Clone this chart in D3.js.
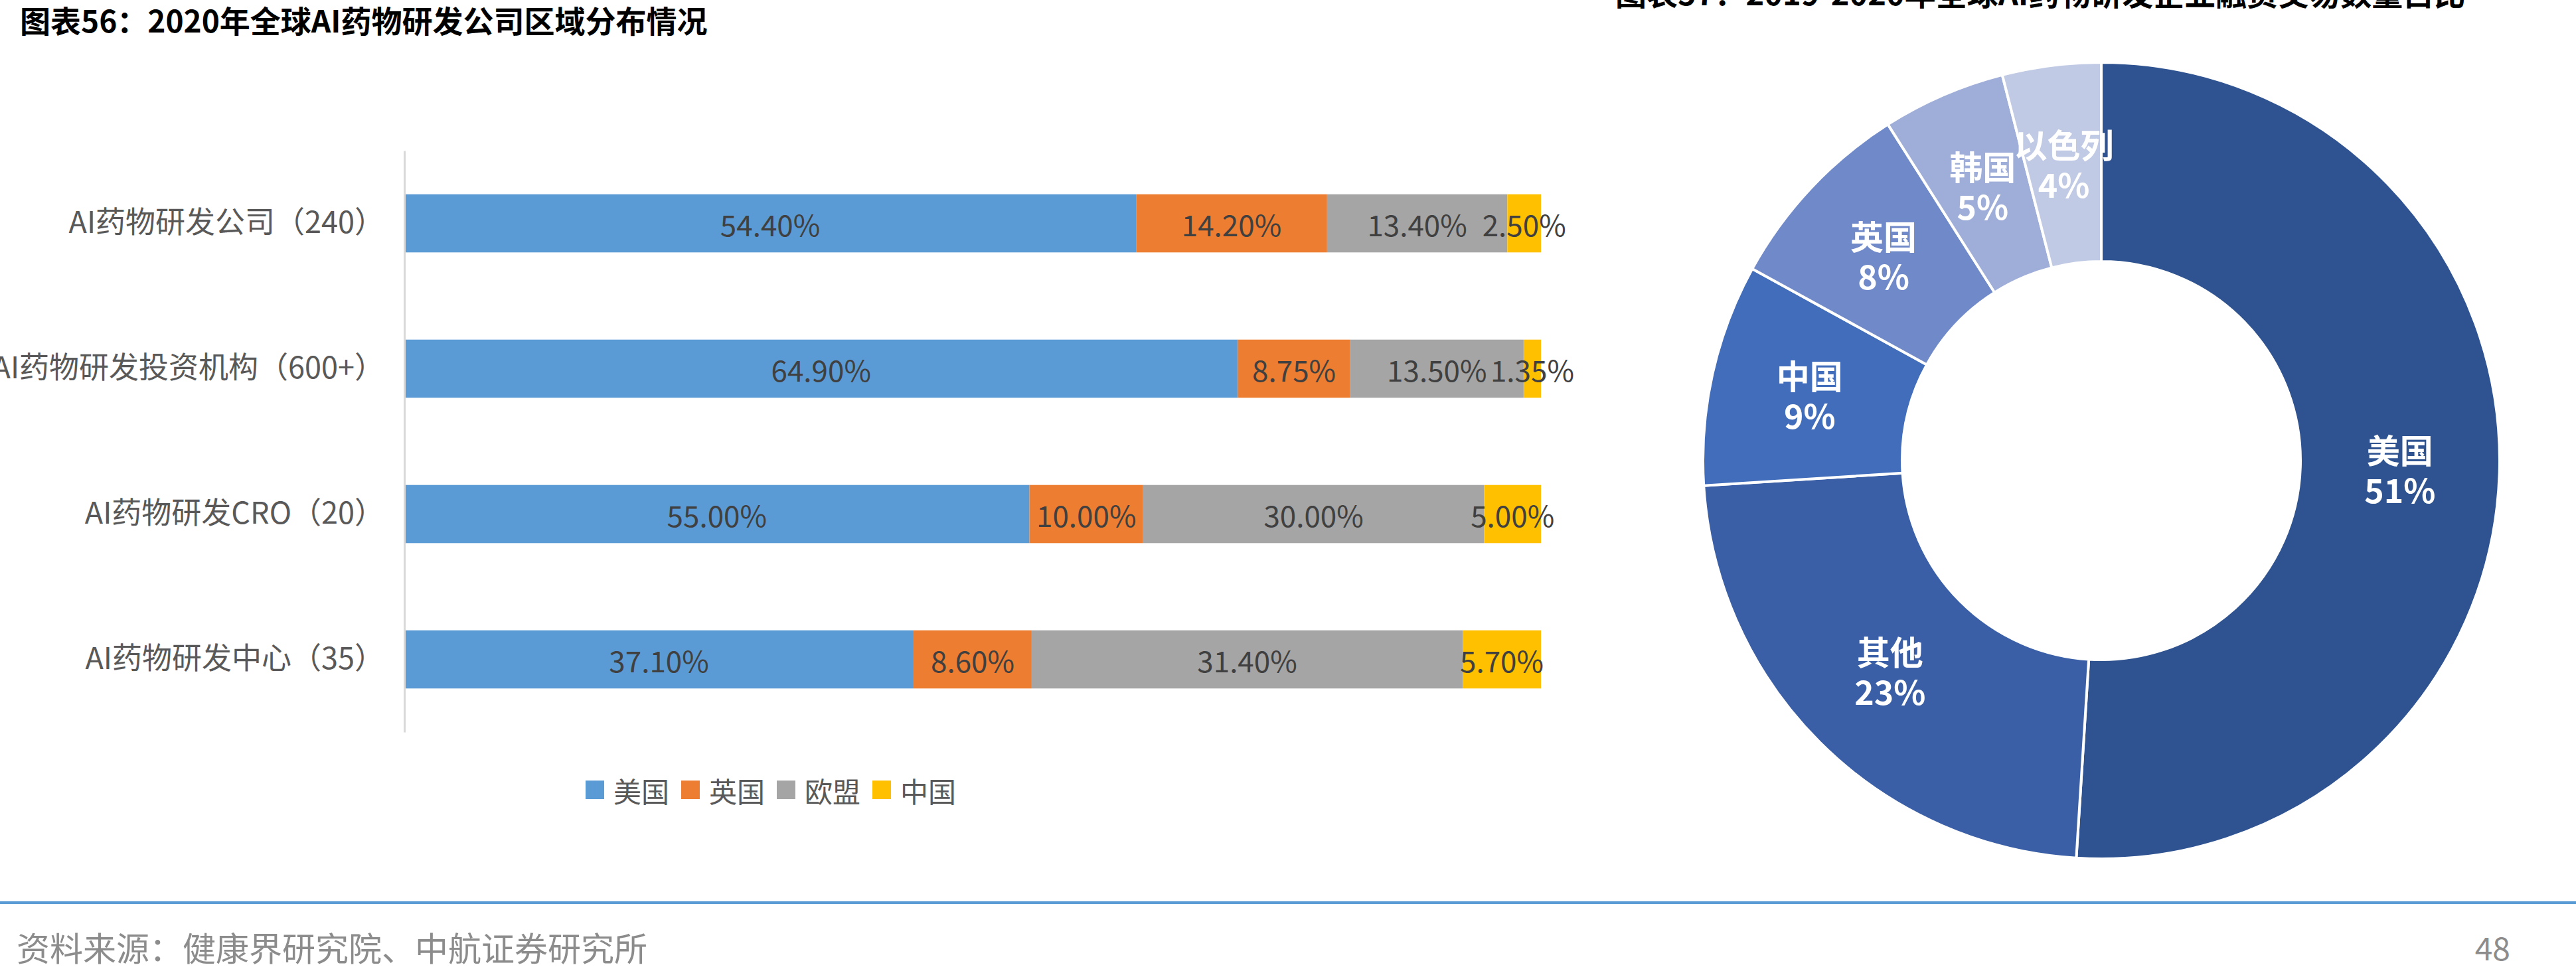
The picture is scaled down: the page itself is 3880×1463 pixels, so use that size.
<!DOCTYPE html>
<html>
<head>
<meta charset="utf-8">
<script src="https://cdn.jsdelivr.net/npm/d3@7"></script>
<style>
  body { margin: 0; background: #fff; }
  text { font-family: "Noto Sans CJK SC", "Noto Sans", sans-serif; }
</style>
</head>
<body>
<div id="chart"></div>
<script>
// bar chart data (图表56)
var categories = ["AI药物研发公司（240）", "AI药物研发投资机构（600+）", "AI药物研发CRO（20）", "AI药物研发中心（35）"];
var seriesNames = ["美国", "英国", "欧盟", "中国"];
var usValues = [54.40, 64.90, 55.00, 37.10];
var ukValues = [14.20, 8.75, 10.00, 8.60];
var euValues = [13.40, 13.50, 30.00, 31.40];
var cnValues = [2.50, 1.35, 5.00, 5.70];
var barColors = ["#5B9BD5", "#ED7D31", "#A5A5A5", "#FFC000"];

// donut data (图表57)
var pieLabels = ["美国", "其他", "中国", "英国", "韩国", "以色列"];
var pieValues = [51, 23, 9, 8, 5, 4];
var pieColors = ["#2F5390", "#3A5FA6", "#416DBB", "#6F89C9", "#9FAED8", "#C0CAE5"];

var W = 3880, H = 1463;
var svg = d3.select("#chart").append("svg")
    .attr("width", W)
    .attr("height", H)
    .style("display", "block");

svg.append("rect").attr("width", W).attr("height", H).attr("fill", "#fff");

// titles
svg.append("text")
    .attr("x", 30).attr("y", 49)
    .attr("font-size", 46).attr("font-weight", "bold").attr("fill", "#000")
    .text("图表56：2020年全球AI药物研发公司区域分布情况");

svg.append("text")
    .attr("x", 2433).attr("y", 8)
    .attr("font-size", 47).attr("font-weight", "bold").attr("fill", "#000")
    .text("图表57：2019-2020年全球AI药物研发企业融资交易数量占比");

// ---- stacked bar (100%) ----
var rows = categories.map(function(c, i) {
  return {cat: c, "美国": usValues[i], "英国": ukValues[i], "欧盟": euValues[i], "中国": cnValues[i]};
});

var stack = d3.stack().keys(seriesNames).offset(d3.stackOffsetExpand);
var layers = stack(rows);

var y = d3.scaleBand().domain(categories).range([227, 1103])
    .paddingInner(0.6).paddingOuter(0.3);
var x = d3.scaleLinear().domain([0, 1]).range([609, 2321]);

var bars = svg.append("g");
layers.forEach(function(layer, k) {
  var g = bars.append("g");
  g.selectAll("rect")
    .data(layer)
    .enter().append("rect")
      .attr("x", function(d) { return x(d[0]); })
      .attr("width", function(d) { return x(d[1]) - x(d[0]); })
      .attr("y", function(d) { return y(d.data.cat); })
      .attr("height", y.bandwidth())
      .attr("fill", barColors[k]);
});
layers.forEach(function(layer, k) {
  bars.append("g").selectAll("text")
    .data(layer)
    .enter().append("text")
      .attr("x", function(d) { return (x(d[0]) + x(d[1])) / 2; })
      .attr("y", function(d) { return y(d.data.cat) + y.bandwidth() / 2; })
      .attr("text-anchor", "middle")
      .attr("dominant-baseline", "central")
      .attr("font-size", 44)
      .attr("fill", "#404040")
      .text(function(d) { return d.data[layer.key].toFixed(2) + "%"; });
});

var yAxis = svg.append("g")
    .attr("transform", "translate(609,0)")
    .call(d3.axisLeft(y).tickSize(0).tickPadding(30));
yAxis.select(".domain").attr("stroke", "#d9d9d9").attr("stroke-width", 3);
yAxis.selectAll(".tick text")
    .attr("font-size", 45)
    .attr("fill", "#595959")
    .attr("font-family", "\"Noto Sans CJK SC\", sans-serif");

// legend
var legend = svg.append("g").attr("transform", "translate(882,1176)");
seriesNames.forEach(function(s, i) {
  var item = legend.append("g").attr("transform", "translate(" + (i * 144) + ",0)");
  item.append("rect").attr("width", 28).attr("height", 28).attr("fill", barColors[i]);
  item.append("text")
    .attr("x", 42).attr("y", 14)
    .attr("dominant-baseline", "central")
    .attr("font-size", 42)
    .attr("fill", "#595959")
    .text(s);
});

// ---- donut ----
var cx = 3165, cy = 694;
var pie = d3.pie().sort(null).value(function(d) { return d; });
var arc = d3.arc().innerRadius(300).outerRadius(600);
var arcs = pie(pieValues);

var donut = svg.append("g").attr("transform", "translate(" + cx + "," + cy + ")");
donut.selectAll("path")
  .data(arcs)
  .enter().append("path")
    .attr("d", arc)
    .attr("fill", function(d, i) { return pieColors[i]; })
    .attr("stroke", "#fff")
    .attr("stroke-width", 4);

var lab = donut.selectAll("g.lab")
  .data(arcs)
  .enter().append("g")
    .attr("class", "lab")
    .attr("transform", function(d) { return "translate(" + arc.centroid(d) + ")"; });
lab.append("text")
    .attr("y", -32)
    .attr("text-anchor", "middle")
    .attr("dominant-baseline", "central")
    .attr("font-size", 50).attr("font-weight", "bold").attr("fill", "#fff")
    .text(function(d, i) { return pieLabels[i]; });
lab.append("text")
    .attr("y", 28)
    .attr("text-anchor", "middle")
    .attr("dominant-baseline", "central")
    .attr("font-size", 50).attr("font-weight", "bold").attr("fill", "#fff")
    .text(function(d) { return d.data + "%"; });

// footer
svg.append("line")
    .attr("x1", 0).attr("x2", W)
    .attr("y1", 1360).attr("y2", 1360)
    .attr("stroke", "#5B9BD5").attr("stroke-width", 4);

svg.append("text")
    .attr("x", 25).attr("y", 1426)
    .attr("dominant-baseline", "central")
    .attr("font-size", 50).attr("fill", "#8c8c8c")
    .text("资料来源：健康界研究院、中航证券研究所");

svg.append("text")
    .attr("x", 3781).attr("y", 1426)
    .attr("text-anchor", "end")
    .attr("dominant-baseline", "central")
    .attr("font-size", 48).attr("fill", "#8c8c8c")
    .text("48");
</script>
</body>
</html>
